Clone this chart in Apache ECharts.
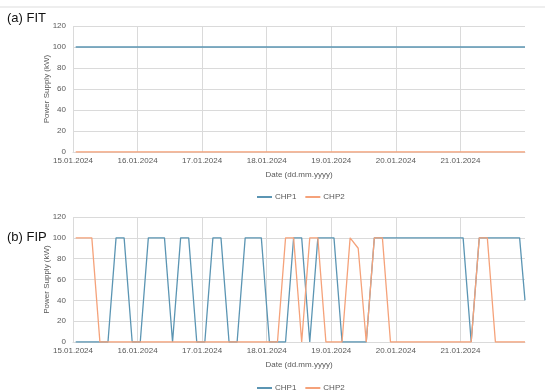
<!DOCTYPE html>
<html>
<head>
<meta charset="utf-8">
<title>FIT / FIP</title>
<script src="https://cdn.jsdelivr.net/npm/echarts@6/dist/echarts.min.js"></script>
<style>
html,body{margin:0;padding:0;background:#fff;}
#main{width:550px;height:392px;}
</style>
</head>
<body>
<div id="main"></div>
<script>
// time of each sample, hours after 15.01.2024 00:00 (3 h steps, last one cut at the axis end)
var hours = [1,4,7,10,13,16,19,22,25,28,31,34,37,40,43,46,49,52,55,58,61,64,67,70,73,76,79,82,85,88,91,94,97,100,103,106,109,112,115,118,121,124,127,130,133,136,139,142,145,148,151,154,157,160,163,166,168];
var dayLabels = ['15.01.2024','16.01.2024','17.01.2024','18.01.2024','19.01.2024','20.01.2024','21.01.2024','22.01.2024'];
var seriesNames = ['CHP1','CHP2'];

// (a) FIT
var fitChp1 = [100,100,100,100,100,100,100,100,100,100,100,100,100,100,100,100,100,100,100,100,100,100,100,100,100,100,100,100,100,100,100,100,100,100,100,100,100,100,100,100,100,100,100,100,100,100,100,100,100,100,100,100,100,100,100,100,100];
var fitChp2 = [0,0,0,0,0,0,0,0,0,0,0,0,0,0,0,0,0,0,0,0,0,0,0,0,0,0,0,0,0,0,0,0,0,0,0,0,0,0,0,0,0,0,0,0,0,0,0,0,0,0,0,0,0,0,0,0,0];

// (b) FIP
var fipChp1 = [0,0,0,0,0,100,100,0,0,100,100,100,0,100,100,0,0,100,100,0,0,100,100,100,0,0,0,100,100,0,100,100,100,0,0,0,0,100,100,100,100,100,100,100,100,100,100,100,100,0,100,100,100,100,100,100,40];
var fipChp2 = [100,100,100,0,0,0,0,0,0,0,0,0,0,0,0,0,0,0,0,0,0,0,0,0,0,0,100,100,0,100,100,0,0,0,100,90,0,100,100,0,0,0,0,0,0,0,0,0,0,0,100,100,0,0,0,0,0];

var colors = ['#5b95b3','#f5a27a'];
var txt = '#595959';
var gridCol = '#dadada';
var font = 'Liberation Sans, Arial, sans-serif';

function pairs(vals){
	var out = [];
	for(var i=0;i<hours.length;i++){
		out.push([hours[i],vals[i]]);
	}
	return out;
}

function xAx(idx){
	return {
		gridIndex:idx,type:'value',min:0,max:168,interval:24,
		name:'Date (dd.mm.yyyy)',nameLocation:'middle',nameGap:19,
		nameTextStyle:{color:txt,fontSize:8,fontFamily:font},
		axisLine:{show:true,lineStyle:{color:gridCol}},
		axisTick:{show:false},
		axisLabel:{color:txt,fontSize:8,fontFamily:font,margin:5,showMaxLabel:false,
			formatter:function(v){return dayLabels[Math.round(v/24)];}},
		splitLine:{show:true,showMaxLine:false,lineStyle:{color:gridCol,width:1}}
	};
}

function yAx(idx){
	return {
		gridIndex:idx,type:'value',min:0,max:120,interval:20,
		name:'Power Supply (kW)',nameLocation:'middle',nameGap:22,
		nameMoveOverlap:false,
		nameTextStyle:{color:txt,fontSize:8,fontFamily:font},
		axisLine:{show:false},axisTick:{show:false},
		axisLabel:{color:txt,fontSize:8,fontFamily:font,margin:7},
		splitLine:{show:true,lineStyle:{color:gridCol,width:1}}
	};
}

function line(name,idx,vals,col){
	return {
		name:name,type:'line',xAxisIndex:idx,yAxisIndex:idx,
		data:pairs(vals),showSymbol:false,symbol:'none',
		lineStyle:{color:col,width:1.3},itemStyle:{color:col},
		animation:false
	};
}

function legendAt(top){
	return {
		top:top,left:252,itemWidth:15,itemHeight:2,itemGap:9,icon:'rect',
		data:seriesNames,
		textStyle:{color:txt,fontSize:8,fontFamily:font,padding:[0,0,0,-2]}
	};
}

var chart = echarts.init(document.getElementById('main'));
var option = {
	animation:false,
	color:colors,
	graphic:[
		{type:'rect',shape:{x:0,y:6,width:545,height:2},style:{fill:'#eeeeee'},silent:true},
		{type:'text',left:7,top:12,style:{text:'(a) FIT',fontSize:13,fill:'#111',fontFamily:font}},
		{type:'text',left:7,top:231,style:{text:'(b) FIP',fontSize:13,fill:'#111',fontFamily:font}}
	],
	grid:[
		{left:73,right:25,top:26,height:126},
		{left:73,right:25,top:217,height:125}
	],
	legend:[legendAt(188),legendAt(379)],
	xAxis:[xAx(0),xAx(1)],
	yAxis:[yAx(0),yAx(1)],
	series:[
		line('CHP1',0,fitChp1,colors[0]),
		line('CHP2',0,fitChp2,colors[1]),
		line('CHP1',1,fipChp1,colors[0]),
		line('CHP2',1,fipChp2,colors[1])
	]
};
chart.setOption(option);
</script>
</body>
</html>
